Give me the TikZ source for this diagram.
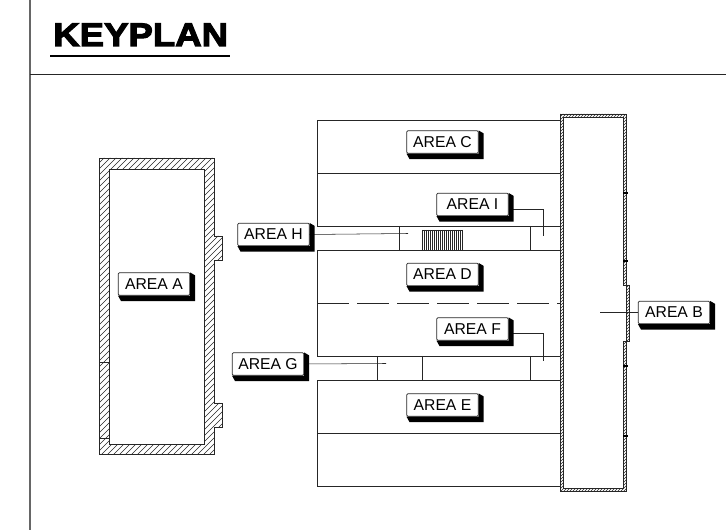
\documentclass[tikz,border=0pt]{standalone}
\usepackage{fontspec}
\setmainfont{Liberation Sans}
\newfontfamily\titlefont[FakeBold=3.4,FakeStretch=1.12]{Liberation Sans Bold}
\usetikzlibrary{calc}
\definecolor{ink}{gray}{0.15}
\tikzset{
  planline/.style={draw=ink,line width=0.6pt},
  thinline/.style={draw=ink,line width=0.4pt},
  hatchline/.style={draw=ink,line width=0.35pt},
  arealabel/.style={draw=ink,fill=white,line width=0.55pt,rounded corners=0.8pt,
    minimum width=53.5pt,minimum height=16.8pt,inner sep=0pt,font=\fontsize{11.8pt}{12pt}\selectfont},
  shadowfill/.style={fill=black,draw=none},
  leader/.style={draw=ink,line width=0.4pt}
}
\newcommand{\shadowof}[1]{%
  \fill[shadowfill] (#1.north east) -- ($(#1.north east)+(5.2,3)$) -- ($(#1.south east)+(5.2,5.5)$) -- ($(#1.south west)+(3,5.5)$) -- (#1.south west) -- (#1.south east) -- cycle;}
\begin{document}
\begin{tikzpicture}[x=0.75pt,y=-0.75pt]
\useasboundingbox (0,0) rectangle (726,530);
% frame and title
\draw[draw=black!60,line width=0.9pt] (30,0) -- (30,530);
\draw[thinline] (30,74) -- (726,74);
\node[anchor=base west,inner sep=0pt,font=\titlefont\fontsize{24.5pt}{26pt}\selectfont] (title) at (53,46) {KEYPLAN};
\draw[draw=black,line width=1.5pt] (50,56.5) -- (230,56.5);
% area A building walls
\begin{scope}
  \clip (99,158) -- (214,158) -- (214,236) -- (222,236) -- (222,260) -- (214,260) -- (214,403) -- (222,403) -- (222,427) -- (214,427) -- (214,454) -- (99,454) -- cycle;
  \foreach \d in {100,106,...,800} \draw[hatchline] (\d,0) -- (\d-600,600);
\end{scope}
\fill[white] (109,169) rectangle (204,444);
\draw[thinline] (99,158) -- (214,158) -- (214,236) -- (222,236) -- (222,260) -- (214,260) -- (214,403) -- (222,403) -- (222,427) -- (214,427) -- (214,454) -- (99,454) -- cycle;
\draw[thinline] (109,169) rectangle (204,444);
\draw[thinline] (99,362) -- (109,362) (99,438) -- (109,438);
% rooms
\draw[planline] (317,226) -- (317,120) -- (561,120);
\draw[planline] (317,173) -- (561,173);
\draw[planline] (317,226) -- (561,226);
\draw[planline] (317,356) -- (317,250) -- (561,250);
\draw[planline,dash pattern=on 24pt off 6pt] (317,303) -- (561,303);
\draw[planline] (317,356) -- (561,356);
\draw[planline] (317,486) -- (317,380) -- (561,380);
\draw[planline] (317,433) -- (561,433);
\draw[planline] (317,486) -- (561,486);
\draw[thinline] (399,226) -- (399,250) (530,226) -- (530,250);
\draw[thinline] (377,356) -- (377,380) (422,356) -- (422,380) (530,356) -- (530,380);
% stair hatch
\foreach \d in {422,424,...,462} \draw[hatchline] (\d,230) -- (\d,250);
\draw[thinline] (422,230) -- (463,230);
% area B building walls
\begin{scope}
  \clip (560,114) -- (626,114) -- (626,285) -- (629,285) -- (629,341) -- (626,341) -- (626,491) -- (560,491) -- cycle;
  \foreach \d in {560,563,...,1300} \draw[hatchline,line width=0.3pt] (\d,0) -- (\d-600,600);
\end{scope}
\fill[white] (563,117) -- (623,117) -- (623,285) -- (626,285) -- (626,341) -- (623,341) -- (623,488) -- (563,488) -- cycle;
\draw[thinline,line width=0.3pt] (560,114) -- (626,114) -- (626,285) -- (629,285) -- (629,341) -- (626,341) -- (626,491) -- (560,491) -- cycle;
\draw[thinline,line width=0.3pt] (563,117) -- (623,117) -- (623,285) -- (626,285) -- (626,341) -- (623,341) -- (623,488) -- (563,488) -- cycle;
\foreach \yy in {193,261,366,436} \draw[draw=black,line width=1.6pt] (623,\yy) -- (628,\yy);
% labels
\node[arealabel] (A) at (154,284) {AREA A};
\node[arealabel] (B) at (674,312.5) {AREA B};
\node[arealabel] (C) at (442.5,142) {AREA C};
\node[arealabel] (D) at (442.5,274.5) {AREA D};
\node[arealabel] (E) at (442.5,405) {AREA E};
\node[arealabel] (F) at (472.5,329) {AREA F};
\node[arealabel] (G) at (268,364) {AREA G};
\node[arealabel] (H) at (273.5,234.5) {AREA H};
\node[arealabel] (I) at (472.5,204.5) {AREA I};
\coordinate (Bend) at (600,312.5);
\coordinate (Gend) at (386,363.5);
\coordinate (Hend) at (408,233.5);
\coordinate (Iend) at (543,236);
\coordinate (Fend) at (543,361);
\draw[leader] (B.west) -- (Bend);
\draw[leader] (G.east) -- (Gend);
\draw[leader] (H.east) -- (Hend);
\draw[leader] ($(I.east)+(0,4.5)$) -| (Iend);
\draw[leader] ($(F.east)+(0,4)$) -| (Fend);
\shadowof{A}\shadowof{B}\shadowof{C}\shadowof{D}\shadowof{E}\shadowof{F}\shadowof{G}\shadowof{H}\shadowof{I}
\end{tikzpicture}
\end{document}
